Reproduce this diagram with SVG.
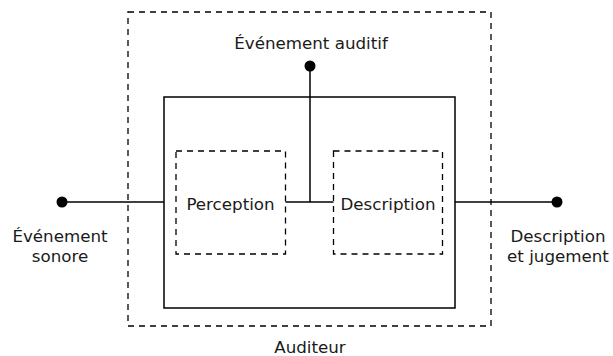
<svg xmlns="http://www.w3.org/2000/svg" width="613" height="356" viewBox="0 0 613 356">
<style>
.dash{fill:none;stroke:#000;stroke-width:1.3;stroke-dasharray:6,5}
.solid{fill:none;stroke:#000;stroke-width:1.5}
.ln{fill:none;stroke:#000;stroke-width:1.5}
text{font-family:"DejaVu Sans",sans-serif;font-size:16.7px;fill:#1a1a1a;text-anchor:middle}
</style>
<rect width="613" height="356" fill="#fff"/>
<g id="auditeur">
<rect class="dash" x="128" y="12" width="363" height="314"/>
<text x="310" y="353">Auditeur</text>
</g>
<g id="systeme">
<rect class="solid" x="164" y="97" width="291" height="211"/>
</g>
<g id="perception">
<rect class="dash" x="176" y="151" width="109.5" height="103"/>
<text x="230.5" y="210">Perception</text>
</g>
<g id="description">
<rect class="dash" x="333.5" y="151" width="109" height="103"/>
<text x="388" y="210">Description</text>
</g>
<g id="evenement-sonore">
<circle cx="62" cy="202" r="5.5"/>
<text x="60" y="242">Événement</text>
<text x="60" y="262">sonore</text>
</g>
<g id="evenement-auditif">
<circle cx="310" cy="66" r="5.5"/>
<text x="311" y="49">Événement auditif</text>
</g>
<g id="description-jugement">
<circle cx="557" cy="202" r="5.5"/>
<text x="558" y="242">Description</text>
<text x="558" y="262">et jugement</text>
</g>
<g id="connectors">
<line class="ln" x1="62" y1="202" x2="164" y2="202"/>
<line class="ln" x1="455" y1="202" x2="557" y2="202"/>
<line class="ln" x1="310" y1="66" x2="310" y2="202"/>
<line class="ln" x1="285.5" y1="202" x2="333.5" y2="202"/>
</g>
</svg>
